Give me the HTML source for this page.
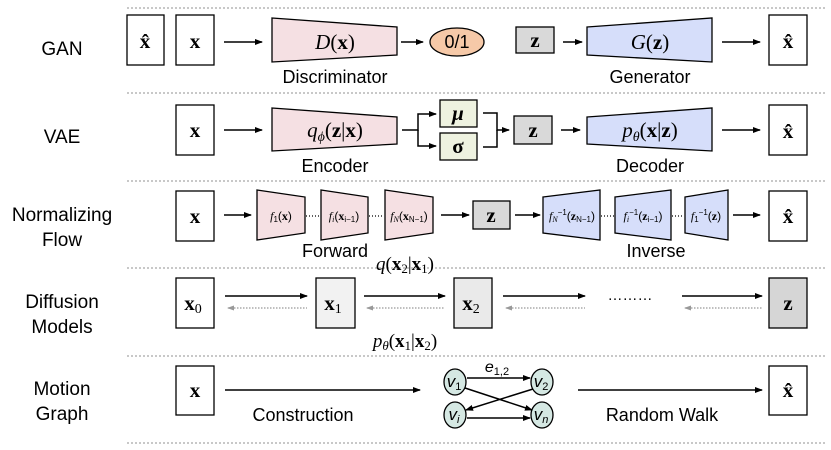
<!DOCTYPE html>
<html><head><meta charset="utf-8"><style>
body{margin:0;background:#fff;width:831px;height:450px;overflow:hidden}
svg{display:block}
text{font-family:"Liberation Sans",sans-serif}
.m{font-family:"Liberation Serif",serif;font-style:italic}
.b{font-family:"Liberation Serif",serif;font-weight:bold}
</style></head><body>
<svg width="831" height="450" viewBox="0 0 831 450">
<defs>
<marker id="a" markerWidth="8" markerHeight="8" refX="7" refY="4" orient="auto" markerUnits="userSpaceOnUse"><path d="M0,1 L8,4 L0,7 z" fill="#000"/></marker>
<marker id="g" markerWidth="7" markerHeight="6" refX="1" refY="3" orient="auto" markerUnits="userSpaceOnUse"><path d="M7,0.5 L0,3 L7,5.5 z" fill="#999"/></marker>
</defs>
<g stroke="#c8c8c8" stroke-width="2" stroke-dasharray="2,2">
<line x1="127" y1="8" x2="825" y2="8"/><line x1="127" y1="93" x2="825" y2="93"/><line x1="127" y1="181" x2="825" y2="181"/><line x1="127" y1="268" x2="825" y2="268"/><line x1="127" y1="356" x2="825" y2="356"/><line x1="127" y1="443" x2="825" y2="443"/>
</g>
<g font-size="19" text-anchor="middle" fill="#000">
<text x="62" y="55">GAN</text><text x="62" y="143">VAE</text>
<text x="62" y="221">Normalizing</text><text x="62" y="246">Flow</text>
<text x="62" y="308">Diffusion</text><text x="62" y="333">Models</text>
<text x="62" y="395">Motion</text><text x="62" y="420">Graph</text>
</g>
<g stroke="#000" stroke-width="1.3" fill="#fff">
<rect x="127" y="15" width="37" height="50"/><rect x="176" y="15" width="38" height="50"/>
<path d="M272,18 L397,27 L397,55 L272,62 z" fill="#f5e0e3"/>
<ellipse cx="457" cy="42" rx="27" ry="14" fill="#f6c9a8"/>
<rect x="516" y="27" width="38" height="26" fill="#d9d9d9"/>
<path d="M587,27 L712,18 L712,62 L587,55 z" fill="#d6defa"/>
<rect x="769" y="15" width="38" height="50"/>
<rect x="176" y="105" width="38" height="50"/>
<path d="M272,108 L397,117 L397,144 L272,151 z" fill="#f5e0e3"/>
<rect x="440" y="100" width="37" height="27" fill="#eef2e0"/>
<rect x="440" y="133" width="37" height="27" fill="#eef2e0"/>
<rect x="514" y="116" width="38" height="28" fill="#d9d9d9"/>
<path d="M587,117 L712,108 L712,151 L587,144 z" fill="#d6defa"/>
<rect x="769" y="105" width="38" height="50"/>
<rect x="176" y="191" width="38" height="50"/>
<path d="M257,190 L305,197 L305,233 L257,240 z" fill="#f5e0e3"/>
<path d="M321,190 L368,197 L368,233 L321,240 z" fill="#f5e0e3"/>
<path d="M385,190 L433,197 L433,233 L385,240 z" fill="#f5e0e3"/>
<rect x="473" y="201" width="37" height="28" fill="#d9d9d9"/>
<path d="M543,197 L600,190 L600,240 L543,233 z" fill="#d6defa"/>
<path d="M615,197 L671,190 L671,240 L615,233 z" fill="#d6defa"/>
<path d="M685,197 L728,190 L728,240 L685,233 z" fill="#d6defa"/>
<rect x="769" y="191" width="38" height="50"/>
<rect x="176" y="278" width="38" height="50"/>
<rect x="316" y="278" width="39" height="50" fill="#f2f2f2"/>
<rect x="454" y="278" width="38" height="50" fill="#eaeaea"/>
<rect x="769" y="278" width="38" height="50" fill="#d6d6d6"/>
<rect x="176" y="366" width="38" height="49"/>
<rect x="769" y="366" width="38" height="49"/>
<g fill="#d5e8e3"><ellipse cx="455" cy="382" rx="11" ry="13"/><ellipse cx="542" cy="382" rx="11" ry="13"/><ellipse cx="455" cy="415" rx="11" ry="13"/><ellipse cx="542" cy="415" rx="11" ry="13"/></g>
</g>
<g stroke="#000" stroke-width="1.5" fill="none" marker-end="url(#a)">
<line x1="224" y1="42" x2="262" y2="42"/><line x1="401" y1="42" x2="423" y2="42"/><line x1="563" y1="42" x2="582" y2="42"/><line x1="722" y1="42" x2="760" y2="42"/>
<line x1="224" y1="130" x2="262" y2="130"/>
<path d="M402,130 H418 V114 H436"/><path d="M418,130 V146 H436"/>
<path d="M483,113 H497 V130 H509"/><path d="M483,147 H497 V130"  marker-end="none"/>
<line x1="561" y1="130" x2="580" y2="130"/><line x1="722" y1="130" x2="760" y2="130"/>
<line x1="224" y1="215" x2="251" y2="215"/><line x1="441" y1="215" x2="469" y2="215"/><line x1="515" y1="215" x2="540" y2="215"/><line x1="733" y1="215" x2="760" y2="215"/>
<line x1="225" y1="296" x2="307" y2="296"/><line x1="364" y1="296" x2="445" y2="296"/><line x1="503" y1="296" x2="585" y2="296"/><line x1="682" y1="296" x2="762" y2="296"/>
<line x1="225" y1="390" x2="420" y2="390"/><line x1="578" y1="390" x2="762" y2="390"/>
<line x1="467" y1="378" x2="530" y2="378"/><line x1="467" y1="418" x2="530" y2="418"/>
<line x1="465" y1="388" x2="532" y2="410"/><line x1="533" y1="389" x2="466" y2="410"/>
</g>
<g stroke="#999" stroke-width="1.3" stroke-dasharray="1.5,1.5" marker-start="url(#g)">
<line x1="228" y1="308" x2="307" y2="308"/><line x1="367" y1="308" x2="445" y2="308"/><line x1="506" y1="308" x2="585" y2="308"/><line x1="685" y1="308" x2="762" y2="308"/>
</g>
<g stroke="#000" stroke-width="1.2" stroke-dasharray="1,2">
<line x1="306" y1="216" x2="320" y2="216"/><line x1="369" y1="216" x2="384" y2="216"/><line x1="601" y1="216" x2="614" y2="216"/><line x1="672" y1="216" x2="684" y2="216"/>
</g>
<g fill="#000" font-size="18" text-anchor="middle">
<text x="335" y="83">Discriminator</text><text x="650" y="83">Generator</text>
<text x="335" y="172">Encoder</text><text x="650" y="172">Decoder</text>
<text x="335" y="257">Forward</text><text x="656" y="257">Inverse</text>
<text x="303" y="421">Construction</text><text x="662" y="421">Random Walk</text>
<text x="457" y="48" font-size="18">0/1</text>
<text x="630" y="300" font-size="15">………</text>
</g>
<g fill="#000" font-size="21" text-anchor="middle">
<text class="b" x="145" y="48">x̂</text><text class="b" x="195" y="48">x</text>
<text x="335" y="49"><tspan class="m">D</tspan><tspan font-family="Liberation Serif">(</tspan><tspan class="b">x</tspan><tspan font-family="Liberation Serif">)</tspan></text>
<text class="b" x="535" y="47">z</text>
<text x="650" y="49"><tspan class="m">G</tspan><tspan font-family="Liberation Serif">(</tspan><tspan class="b">z</tspan><tspan font-family="Liberation Serif">)</tspan></text>
<text class="b" x="788" y="48">x̂</text>
<text class="b" x="195" y="137">x</text>
<text x="335" y="137"><tspan class="m">q</tspan><tspan class="m" font-size="14" dy="4">ϕ</tspan><tspan font-family="Liberation Serif" dy="-4">(</tspan><tspan class="b">z</tspan><tspan font-family="Liberation Serif">|</tspan><tspan class="b">x</tspan><tspan font-family="Liberation Serif">)</tspan></text>
<text class="b" x="458" y="120" font-style="italic">μ</text><text class="b" x="458" y="153">σ</text>
<text class="b" x="533" y="137">z</text>
<text x="650" y="137"><tspan class="m">p</tspan><tspan class="m" font-size="14" dy="4">θ</tspan><tspan font-family="Liberation Serif" dy="-4">(</tspan><tspan class="b">x</tspan><tspan font-family="Liberation Serif">|</tspan><tspan class="b">z</tspan><tspan font-family="Liberation Serif">)</tspan></text>
<text class="b" x="788" y="138">x̂</text>
<text class="b" x="195" y="223">x</text><text class="b" x="491" y="222">z</text><text class="b" x="788" y="223">x̂</text>
<text class="b" x="193" y="310">x<tspan font-weight="normal" font-size="14" dy="3">0</tspan></text>
<text class="b" x="333" y="310">x<tspan font-weight="normal" font-size="14" dy="3">1</tspan></text>
<text class="b" x="471" y="310">x<tspan font-weight="normal" font-size="14" dy="3">2</tspan></text>
<text class="b" x="788" y="310">z</text>
<text x="405" y="270" font-size="19"><tspan class="m">q</tspan><tspan font-family="Liberation Serif">(</tspan><tspan class="b">x</tspan><tspan font-family="Liberation Serif" font-size="13" dy="3">2</tspan><tspan font-family="Liberation Serif" dy="-3">|</tspan><tspan class="b">x</tspan><tspan font-family="Liberation Serif" font-size="13" dy="3">1</tspan><tspan font-family="Liberation Serif" dy="-3">)</tspan></text>
<text x="405" y="347" font-size="19"><tspan class="m">p</tspan><tspan class="m" font-size="13" dy="3">θ</tspan><tspan font-family="Liberation Serif" dy="-3">(</tspan><tspan class="b">x</tspan><tspan font-family="Liberation Serif" font-size="13" dy="3">1</tspan><tspan font-family="Liberation Serif" dy="-3">|</tspan><tspan class="b">x</tspan><tspan font-family="Liberation Serif" font-size="13" dy="3">2</tspan><tspan font-family="Liberation Serif" dy="-3">)</tspan></text>
<text class="b" x="195" y="397">x</text><text class="b" x="788" y="397">x̂</text>
</g>
<g fill="#000" font-size="12" text-anchor="middle" font-family="Liberation Serif">
<text x="281" y="220"><tspan class="m">f</tspan><tspan font-size="8" dy="2">1</tspan><tspan dy="-2">(</tspan><tspan class="b">x</tspan>)</text>
<text x="344" y="220"><tspan class="m">f</tspan><tspan class="m" font-size="8" dy="2">i</tspan><tspan dy="-2">(</tspan><tspan class="b">x</tspan><tspan font-size="8" dy="2">i−1</tspan><tspan dy="-2">)</tspan></text>
<text x="409" y="220"><tspan class="m">f</tspan><tspan class="m" font-size="8" dy="2">N</tspan><tspan dy="-2">(</tspan><tspan class="b">x</tspan><tspan font-size="8" dy="2">N−1</tspan><tspan dy="-2">)</tspan></text>
<text x="572" y="220"><tspan class="m">f</tspan><tspan class="m" font-size="8" dy="2">N</tspan><tspan font-size="8" dy="-7">−1</tspan><tspan dy="5">(</tspan><tspan class="b">z</tspan><tspan font-size="8" dy="2">N−1</tspan><tspan dy="-2">)</tspan></text>
<text x="643" y="220"><tspan class="m">f</tspan><tspan class="m" font-size="8" dy="2">i</tspan><tspan font-size="8" dy="-7">−1</tspan><tspan dy="5">(</tspan><tspan class="b">z</tspan><tspan font-size="8" dy="2">i−1</tspan><tspan dy="-2">)</tspan></text>
<text x="706" y="220"><tspan class="m">f</tspan><tspan font-size="8" dy="2">1</tspan><tspan font-size="8" dy="-7">−1</tspan><tspan dy="5">(</tspan><tspan class="b">z</tspan>)</text>
</g>
<g fill="#000" font-size="17" text-anchor="middle" font-family="Liberation Serif" font-style="italic">
<text x="454" y="387">v<tspan font-size="11" font-style="normal" dy="3">1</tspan></text>
<text x="541" y="387">v<tspan font-size="11" font-style="normal" dy="3">2</tspan></text>
<text x="454" y="420">v<tspan font-size="11" dy="3">i</tspan></text>
<text x="541" y="420">v<tspan font-size="11" dy="3">n</tspan></text>
<text x="497" y="372" font-size="16">e<tspan font-size="11" font-style="normal" dy="3">1,2</tspan></text>
</g>
</svg>
</body></html>
